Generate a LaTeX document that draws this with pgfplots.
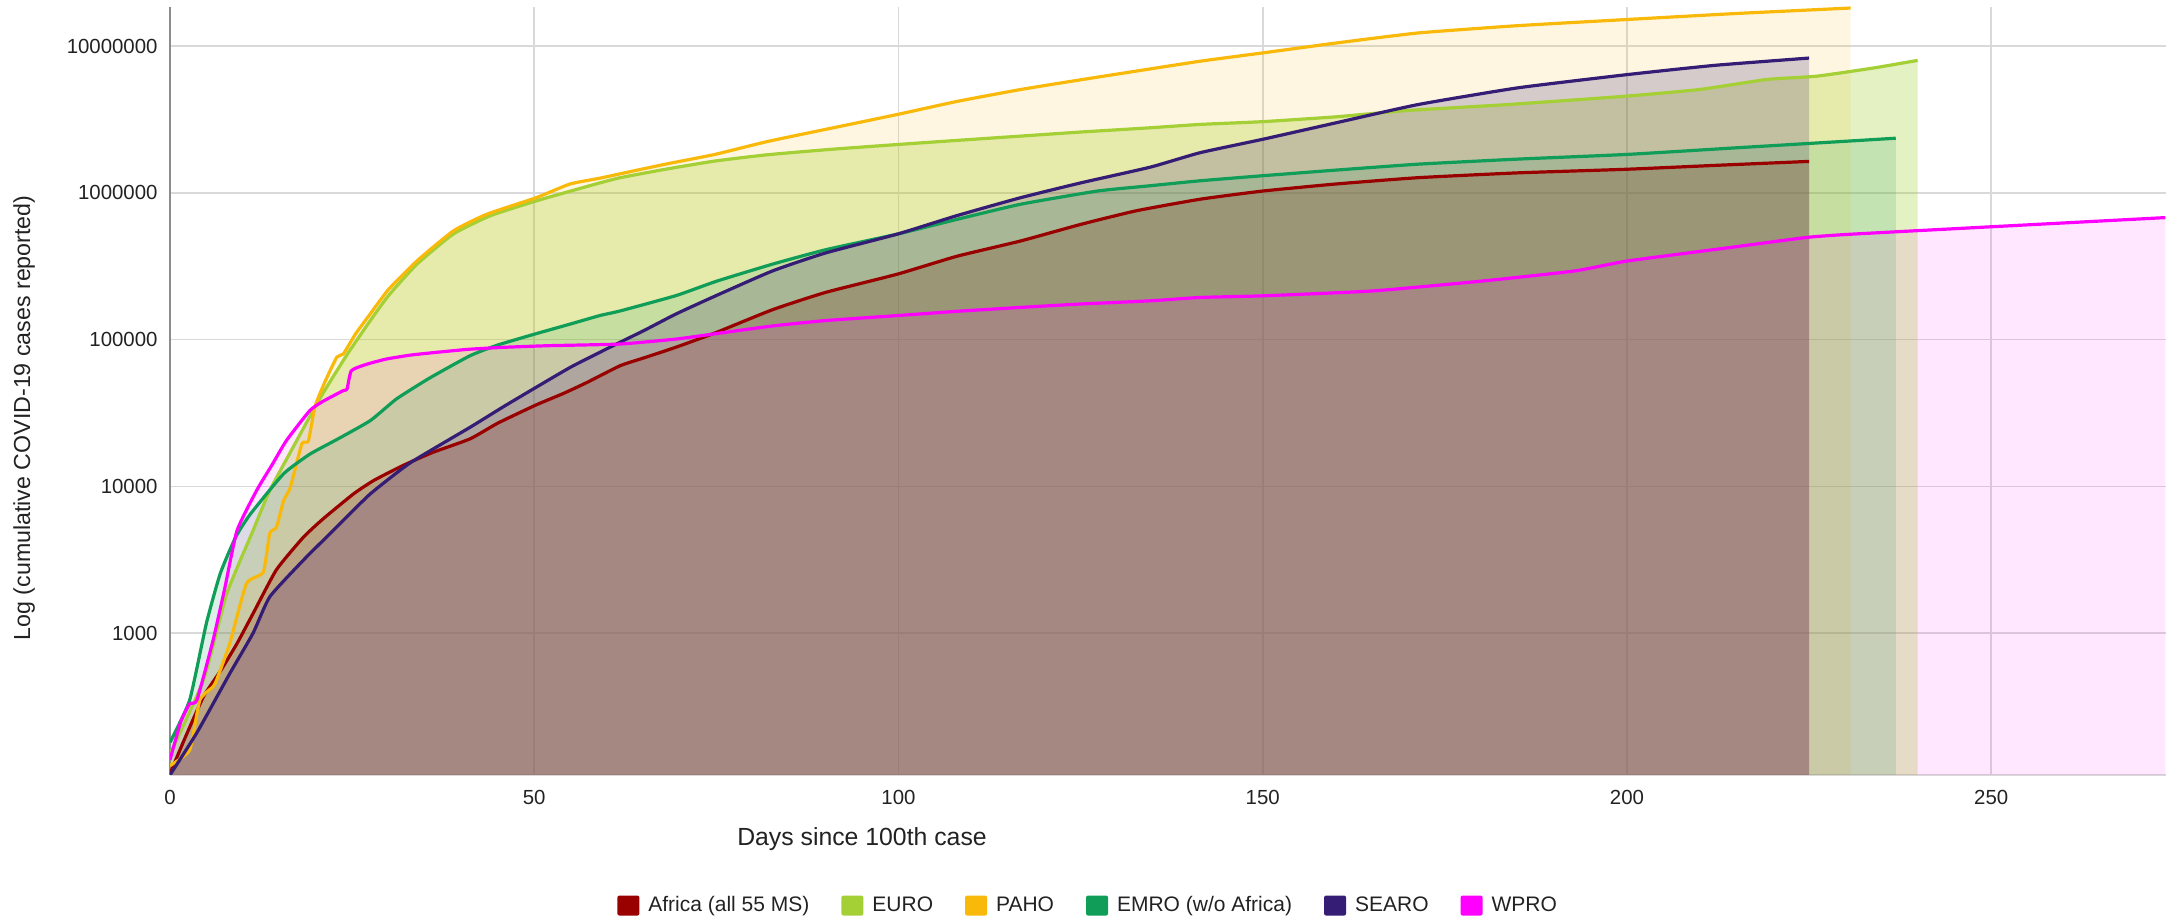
\documentclass[border=0pt]{standalone}
\usepackage{fontspec}
\setmainfont{Liberation Sans}
\usepackage{pgfplots}
\usepackage{pgfplotstable}
\pgfplotsset{compat=1.18}

\definecolor{cAfr}{HTML}{990000}
\definecolor{cEur}{HTML}{A4CF35}
\definecolor{cPah}{HTML}{F9B90A}
\definecolor{cEmr}{HTML}{0F9D58}
\definecolor{cSea}{HTML}{351C75}
\definecolor{cWpr}{HTML}{FF00FF}
\definecolor{gridc}{HTML}{D9D9D9}
\definecolor{txt}{HTML}{222222}

% day, cumulative cases
\pgfplotstableread{
d v
0 110
2 190
4.6 370
7 560
9.2 850
11.4 1360
14.6 2700
18.3 4500
21 6000
25.2 8900
28 11000
32 13900
36 17000
41.2 21100
45 27000
50.3 36000
54 43000
57.2 51000
61.8 66500
65 75000
69.5 89000
75 112000
82.7 160000
90 210000
99.9 280000
108 370000
116.8 471000
125 610000
132.6 755000
141.4 906000
150 1030000
160 1150000
171.3 1270000
185 1370000
200 1450000
212 1540000
225 1640000
}\africa

\pgfplotstableread{
d v
0 150
4.6 480
7.8 1860
11.4 5000
13.7 9400
16.9 18500
20.6 40000
24.3 79000
27.5 135000
30 200000
33.9 327000
38.9 525000
44 700000
50.3 883000
55 1030000
59 1170000
61.8 1270000
68 1450000
74.8 1650000
82 1820000
90.6 1980000
100 2140000
108 2280000
116.8 2440000
125 2600000
134.6 2780000
141.4 2930000
150 3060000
160 3300000
170 3650000
183.6 4000000
200 4570000
210 5070000
219.2 5930000
226.1 6250000
233.9 7110000
239.9 8000000
}\euro

\pgfplotstableread{
d v
0 125
2.7 160
4.1 350
5.9 431
6.4 480
8.2 850
10.5 2180
12.8 2600
13.7 4800
14.6 5250
15.6 8000
16.5 9800
18.1 19500
19 20400
19.9 35000
21.3 52000
22.9 76000
23.8 80000
25.5 110000
27.5 150000
30 220000
33.9 344000
38.9 551000
43.5 716000
50.3 929000
54.9 1150000
59 1260000
61.8 1350000
68 1570000
74.8 1830000
82 2240000
90.6 2750000
99.9 3430000
108 4200000
116.8 5070000
125 5900000
132.6 6760000
141.4 7900000
150 9000000
160 10500000
171.3 12300000
185 13800000
200 15200000
215 16700000
230.7 18200000
}\paho

\pgfplotstableread{
d v
0 180
2.7 350
5 1170
6.9 2550
9 4500
11 6450
15.6 12200
19.2 16600
23 21000
27.5 28100
31.1 39500
35.7 55000
41.2 77800
45 92000
50.3 110000
55 128000
59 146000
61.8 157000
69.5 200000
75 250000
82.7 327000
90 410000
99.9 525000
108 660000
116.8 838000
127.3 1030000
134.6 1120000
141.4 1210000
150 1310000
160 1430000
171.3 1570000
185 1700000
200 1830000
215 2030000
230.7 2260000
236.9 2360000
}\emro

\pgfplotstableread{
d v
0 108
3.7 210
8.2 530
11.4 1000
13.7 1770
18.3 3140
22.9 5300
27.5 8900
33 14500
41.2 25300
45.8 35000
50.3 47500
55 65000
59 82000
61.3 93500
65 115000
69.5 150000
75 200000
82.7 294000
90 390000
99.9 525000
108 700000
116.8 929000
125 1170000
134.6 1500000
141.4 1880000
150 2320000
160 3000000
171.3 4000000
185 5200000
200 6400000
212 7400000
225 8300000
}\searo

\pgfplotstableread{
d v
0 137
1.5 250
2.7 330
3.7 350
5.9 890
7.5 2000
9.2 5000
11.9 9400
14 14000
16 20600
19.2 32900
21 38000
23.8 45000
24.3 46000
24.9 61500
27 68000
29.7 73800
33 78500
36.6 82000
41 86000
45.8 88700
52 91000
61.8 93400
69.5 101000
75 110000
82.7 124000
90 135000
99.9 146000
108 156000
116.8 166000
125 175000
134.6 184000
141.4 194000
150 199000
165.2 215000
180.5 252000
192.8 294000
200.1 344000
214.2 425000
224.6 497000
230.7 523000
250 588000
273.9 679000
}\wpro

\begin{document}
\begin{tikzpicture}
\begin{axis}[
    scale only axis,
    width=998pt, height=384pt,
    at={(0,0)}, anchor=south west,
    ymode=log,
    xmin=0, xmax=274,
    ymin=108, ymax=1.85e7,
    xtick={0,50,100,150,200,250},
    xticklabels={0,50,100,150,200,250},
    ytick={1000,10000,100000,1000000,10000000},
    yticklabels={1000,10000,100000,1000000,10000000},
    /pgf/number format/assume math mode=true,
    major tick length=0pt,
    minor tick length=0pt,
    minor tick num=0,
    axis x line*=bottom, axis y line*=left,
    x axis line style={draw=gridc, line width=0.8pt, -},
    y axis line style={draw=black!45, line width=1pt, -},
    grid=major,
    major grid style={draw=gridc, line width=0.8pt},
    ticklabel style={font=\fontsize{10.2}{12}\selectfont, text=txt},
    xticklabel style={yshift=-4pt},
    yticklabel style={xshift=-2.7pt},
    xlabel={Days since 100th case},
    ylabel={Log (cumulative COVID-19 cases reported)},
    x label style={font=\fontsize{12.4}{14}\selectfont, text=txt,
        at={(axis description cs:0.3467,-0.0833)}, anchor=center},
    y label style={font=\fontsize{11.6}{14}\selectfont, text=txt,
        at={(axis description cs:-0.0731,0.465)}, anchor=center, rotate=0},
    legend style={at={(axis description cs:0.4605,-0.17)}, anchor=center,
        draw=none, fill=none, legend columns=6,
        font=\fontsize{10.5}{12}\selectfont, text=txt,
        /tikz/every odd column/.append style={column sep=2.5pt},
        /tikz/every even column/.append style={column sep=14pt}},
    legend image code/.code={\fill[#1, fill opacity=1, draw=none, rounded corners=1pt] (0pt,-5pt) rectangle (11pt,5pt);},
    every axis plot/.append style={smooth, tension=0.3},
    fillp/.style={draw=none, fill=#1},
    linep/.style={draw=#1, line width=1.6pt, line join=round, forget plot},
]
% areas first
\addplot[fillp=cAfr, fill opacity=0.30] table[x=d, y=v] {\africa} \closedcycle;
\addlegendentry{Africa (all 55 MS)}
\addplot[fillp=cEur, fill opacity=0.30] table[x=d, y=v] {\euro} \closedcycle;
\addlegendentry{EURO}
\addplot[fillp=cPah, fill opacity=0.12] table[x=d, y=v] {\paho} \closedcycle;
\addlegendentry{PAHO}
\addplot[fillp=cEmr, fill opacity=0.15] table[x=d, y=v] {\emro} \closedcycle;
\addlegendentry{EMRO (w/o Africa)}
\addplot[fillp=cSea, fill opacity=0.20] table[x=d, y=v] {\searo} \closedcycle;
\addlegendentry{SEARO}
\addplot[fillp=cWpr, fill opacity=0.09] table[x=d, y=v] {\wpro} \closedcycle;
\addlegendentry{WPRO}
% lines on top
\addplot[linep=cAfr] table[x=d, y=v] {\africa};
\addplot[linep=cEur] table[x=d, y=v] {\euro};
\addplot[linep=cPah] table[x=d, y=v] {\paho};
\addplot[linep=cEmr] table[x=d, y=v] {\emro};
\addplot[linep=cSea] table[x=d, y=v] {\searo};
\addplot[linep=cWpr] table[x=d, y=v] {\wpro};
\end{axis}
\pgfresetboundingbox
\path (-85pt,-72pt) rectangle (1003.5pt,387.5pt);
\end{tikzpicture}
\end{document}
